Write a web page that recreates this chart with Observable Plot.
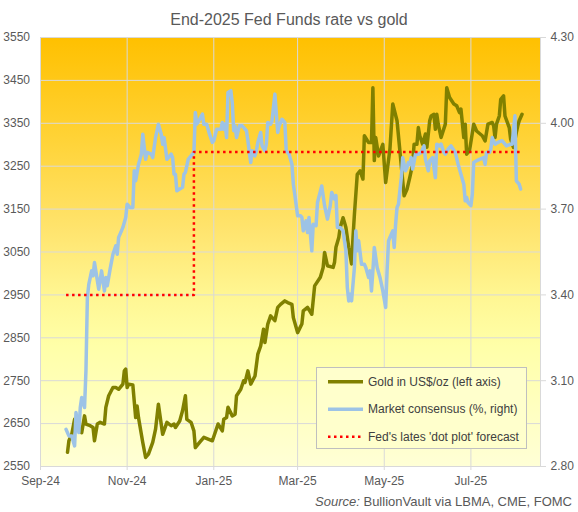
<!DOCTYPE html>
<html>
<head>
<meta charset="utf-8">
<script src="https://cdn.jsdelivr.net/npm/d3@7"></script>
<script src="https://cdn.jsdelivr.net/npm/@observablehq/plot@0.6"></script>
<style>
  body { margin: 0; background: #ffffff; font-family: "Liberation Sans", Arial, sans-serif; }
  #wrap { position: relative; width: 578px; height: 512px; overflow: hidden; background: #ffffff; }
  #bg { position: absolute; left: 40px; top: 37px; width: 500px; height: 429px;
        background: linear-gradient(to bottom, #FFC000 0%, #FFD43A 25%, #FFE46E 45%, #FFF692 60%, #FFFFA8 72%, #FFFFD6 100%); }
  #chart { position: absolute; left: 0; top: 0; }
  #title { position: absolute; left: 0; top: 10px; width: 578px; text-align: center;
           font-size: 16px; line-height: 20px; color: #595959; }
  #source { position: absolute; right: 6px; top: 494px; font-size: 13px; line-height: 16px; color: #595959; white-space: nowrap; }
  #legend { position: absolute; left: 0; top: 0; pointer-events: none; }
</style>
</head>
<body>
<div id="wrap">
  <div id="bg"></div>
  <div id="chart"></div>
  <div id="title">End-2025 Fed Funds rate vs gold</div>
  <div id="source"><i>Source:</i> BullionVault via LBMA, CME, FOMC</div>
</div>
<script>
// ---- data ----
const goldDates = [
"2024-09-20","2024-09-21","2024-09-23","2024-09-25","2024-09-26","2024-09-28","2024-09-30",
"2024-10-02","2024-10-03","2024-10-06","2024-10-08","2024-10-09","2024-10-11","2024-10-13","2024-10-16","2024-10-17","2024-10-19","2024-10-22","2024-10-24","2024-10-26","2024-10-29","2024-10-30","2024-10-31",
"2024-11-01","2024-11-02","2024-11-05","2024-11-07","2024-11-08","2024-11-09","2024-11-12","2024-11-14","2024-11-16","2024-11-19","2024-11-21","2024-11-23","2024-11-26","2024-11-29",
"2024-12-02","2024-12-04","2024-12-05","2024-12-08","2024-12-10","2024-12-12","2024-12-13","2024-12-16","2024-12-18","2024-12-19","2024-12-22","2024-12-25","2024-12-28","2024-12-31",
"2025-01-04","2025-01-07","2025-01-08","2025-01-10","2025-01-11","2025-01-14","2025-01-16","2025-01-17","2025-01-20","2025-01-22","2025-01-23","2025-01-25","2025-01-27","2025-01-30",
"2025-02-01","2025-02-03","2025-02-05","2025-02-06","2025-02-08","2025-02-10","2025-02-13","2025-02-15","2025-02-17","2025-02-20","2025-02-22","2025-02-25","2025-02-26","2025-02-28",
"2025-03-01","2025-03-04","2025-03-05","2025-03-08","2025-03-11","2025-03-13","2025-03-17","2025-03-19","2025-03-20","2025-03-22","2025-03-26","2025-03-27","2025-03-28","2025-03-30","2025-03-31",
"2025-04-02","2025-04-03","2025-04-04","2025-04-06","2025-04-08","2025-04-09","2025-04-10","2025-04-12","2025-04-14","2025-04-16","2025-04-17","2025-04-20","2025-04-22","2025-04-23","2025-04-24","2025-04-25","2025-04-27","2025-04-30",
"2025-05-02","2025-05-05","2025-05-07","2025-05-10","2025-05-12","2025-05-15","2025-05-17","2025-05-19","2025-05-21","2025-05-22","2025-05-24","2025-05-25","2025-05-26","2025-05-28","2025-05-30","2025-05-31",
"2025-06-02","2025-06-03","2025-06-05","2025-06-06","2025-06-07","2025-06-08","2025-06-10","2025-06-13","2025-06-14","2025-06-16","2025-06-19","2025-06-21","2025-06-23","2025-06-24","2025-06-26","2025-06-27","2025-06-28","2025-06-30",
"2025-07-03","2025-07-05","2025-07-09","2025-07-11","2025-07-13","2025-07-16","2025-07-17","2025-07-18","2025-07-19","2025-07-21","2025-07-22","2025-07-24","2025-07-25","2025-07-28","2025-07-29","2025-07-31",
"2025-08-02","2025-08-03","2025-08-04","2025-08-06"
];
const goldPrices = [
2583,2610,2625,2660,2634,2641,2629,
2668,2649,2645,2641,2610,2649,2653,2649,2688,2715,2734,2734,2730,2742,2773,2777,
2734,2742,2740,2664,2691,2664,2606,2571,2579,2606,2637,2695,2625,2653,
2645,2649,2641,2656,2680,2715,2660,2653,2633,2594,2606,2618,2614,2610,
2649,2633,2660,2664,2688,2668,2672,2715,2730,2750,2746,2773,2742,2761,
2812,2831,2870,2839,2882,2901,2890,2921,2928,2936,2932,2928,2897,2874,
2862,2882,2913,2921,2905,2971,2991,3014,3049,3018,3014,3026,3061,3084,3107,
3130,3119,3107,3061,3022,3084,3138,3231,3239,3220,3321,3305,3305,3433,3263,3317,3274,3301,
3212,3290,3395,3356,3286,3181,3196,3224,3255,3301,3301,3340,3321,3301,3325,3294,
3356,3367,3371,3336,3371,3348,3317,3348,3433,3410,3395,3391,3375,3383,3317,3348,3278,3286,
3348,3332,3321,3309,3348,3352,3344,3317,3348,3367,3406,3414,3367,3340,3313,3294,
3329,3344,3356,3371
];

const rateDates = [
"2024-09-19","2024-09-21","2024-09-23","2024-09-25","2024-09-26","2024-09-28","2024-09-29","2024-09-30",
"2024-10-02","2024-10-03","2024-10-04","2024-10-05","2024-10-07","2024-10-08","2024-10-09","2024-10-12","2024-10-14","2024-10-16","2024-10-17","2024-10-18","2024-10-20","2024-10-22","2024-10-24","2024-10-25","2024-10-26","2024-10-28","2024-10-29","2024-10-31",
"2024-11-01","2024-11-03","2024-11-05","2024-11-06","2024-11-07","2024-11-09","2024-11-11","2024-11-12","2024-11-14","2024-11-15","2024-11-18","2024-11-19","2024-11-21","2024-11-23","2024-11-25","2024-11-26","2024-11-27","2024-11-29",
"2024-12-02","2024-12-03","2024-12-04","2024-12-05","2024-12-06","2024-12-08","2024-12-10","2024-12-11","2024-12-12","2024-12-14","2024-12-16","2024-12-18","2024-12-19","2024-12-20","2024-12-22","2024-12-24","2024-12-25","2024-12-27","2024-12-29","2024-12-31",
"2025-01-01","2025-01-03","2025-01-06","2025-01-07","2025-01-08","2025-01-09","2025-01-10","2025-01-11","2025-01-13","2025-01-14","2025-01-15","2025-01-16","2025-01-17","2025-01-19","2025-01-21","2025-01-24","2025-01-25","2025-01-27","2025-01-28","2025-01-30","2025-01-31",
"2025-02-01","2025-02-02","2025-02-03","2025-02-04","2025-02-06","2025-02-07","2025-02-08","2025-02-10","2025-02-11","2025-02-13","2025-02-15","2025-02-16","2025-02-18","2025-02-20","2025-02-21","2025-02-23","2025-02-25","2025-02-26","2025-02-27",
"2025-03-01","2025-03-03","2025-03-04","2025-03-05","2025-03-07","2025-03-08","2025-03-09","2025-03-11","2025-03-12","2025-03-14","2025-03-15","2025-03-18","2025-03-20","2025-03-22","2025-03-24","2025-03-25","2025-03-27","2025-03-28","2025-03-29","2025-03-31",
"2025-04-02","2025-04-03","2025-04-04","2025-04-05","2025-04-06","2025-04-07","2025-04-08","2025-04-10","2025-04-11","2025-04-12","2025-04-13","2025-04-15","2025-04-17","2025-04-18","2025-04-20","2025-04-21","2025-04-22","2025-04-23","2025-04-24","2025-04-26","2025-04-28","2025-04-30",
"2025-05-02","2025-05-03","2025-05-04","2025-05-05","2025-05-07","2025-05-08","2025-05-09","2025-05-10","2025-05-11","2025-05-12","2025-05-13","2025-05-14","2025-05-16","2025-05-17","2025-05-18","2025-05-19","2025-05-20","2025-05-21","2025-05-23","2025-05-25","2025-05-27","2025-05-29","2025-05-30",
"2025-06-01","2025-06-02","2025-06-04","2025-06-05","2025-06-06","2025-06-07","2025-06-09","2025-06-10","2025-06-12","2025-06-13","2025-06-15","2025-06-17","2025-06-20","2025-06-22","2025-06-24","2025-06-26","2025-06-27","2025-06-28","2025-06-29",
"2025-07-01","2025-07-02","2025-07-03","2025-07-05","2025-07-07","2025-07-10","2025-07-11","2025-07-12","2025-07-14","2025-07-15","2025-07-16","2025-07-18","2025-07-20","2025-07-23","2025-07-26","2025-07-29","2025-07-30",
"2025-08-01","2025-08-02","2025-08-04","2025-08-05"
];
const rateValues = [
2.93,2.907,2.907,2.872,2.989,2.919,3.006,3.041,
3.006,3.135,3.391,3.437,3.484,3.467,3.513,3.42,3.484,3.414,3.461,3.432,3.49,3.542,3.572,3.542,3.601,3.624,3.636,3.671,
3.717,3.706,3.706,3.834,3.799,3.857,3.892,3.962,3.874,3.898,3.892,3.88,3.95,3.997,3.962,3.927,3.95,3.874,
3.892,3.88,3.822,3.822,3.764,3.77,3.776,3.822,3.828,3.874,3.886,3.898,4.038,3.997,4.014,4.032,3.997,3.997,3.962,3.933,
3.939,3.979,3.979,4.003,3.979,3.997,3.95,4.108,4.114,4.073,3.974,3.991,3.95,3.991,3.991,3.974,3.939,3.863,3.904,3.886,3.904,
3.933,3.95,3.968,3.921,3.904,3.927,4.003,3.997,4.009,4.102,3.968,3.991,4.014,4.003,3.904,3.892,3.857,3.787,3.752,
3.677,3.677,3.671,3.624,3.659,3.618,3.671,3.554,3.647,3.642,3.723,3.781,3.712,3.665,3.712,3.758,3.735,3.747,3.636,3.636,
3.624,3.589,3.554,3.426,3.379,3.402,3.379,3.496,3.624,3.554,3.589,3.507,3.507,3.496,3.461,3.484,3.414,3.484,3.566,3.496,3.461,3.414,
3.356,3.484,3.589,3.601,3.624,3.566,3.647,3.706,3.717,3.764,3.81,3.88,3.834,3.845,3.863,3.857,3.88,3.84,3.892,3.892,3.898,3.921,3.874,
3.834,3.869,3.88,3.845,3.81,3.927,3.921,3.927,3.898,3.892,3.91,3.921,3.898,3.857,3.822,3.787,3.729,3.741,3.723,
3.712,3.752,3.863,3.869,3.874,3.88,3.857,3.898,3.898,3.91,3.95,3.927,3.933,3.939,3.921,3.927,3.927,
4.026,3.799,3.787,3.77
];

// Fed 'dot plot' median for end-2025 (step line)
const dotDates = ["2024-09-19", "2024-12-18", "2025-08-05"];
const dotValues = [3.40, 3.90, 3.90];

// axes
const xDomain = ["2024-09-01", "2025-08-19"];
const xTickDates = ["2024-09-01", "2024-11-01", "2025-01-01", "2025-03-01", "2025-05-01", "2025-07-01"];
const goldTicks = [2550, 2650, 2750, 2850, 2950, 3050, 3150, 3250, 3350, 3450, 3550];
const rateTicks = [2.80, 3.10, 3.40, 3.70, 4.00, 4.30];

const seriesNames = ["Gold in US$/oz (left axis)", "Market consensus (%, right)", "Fed's lates 'dot plot' forecast"];
const seriesColors = ["#808000", "#9DC3E6", "#FF0000"];

// ---- build ----
const parse = d3.utcParse("%Y-%m-%d");
const rateToGold = d3.scaleLinear().domain([2.80, 4.30]).range([2550, 3550]);

const gold = goldDates.map((d, i) => ({date: parse(d), value: goldPrices[i]}));
const rate = rateDates.map((d, i) => ({date: parse(d), value: rateToGold(rateValues[i])}));
const dots = dotDates.map((d, i) => ({date: parse(d), value: rateToGold(dotValues[i])}));
const xTicks = xTickDates.map(parse);

const gridColor = "#D9D9D9";
const textColor = "#595959";

const chart = Plot.plot({
  width: 578,
  height: 512,
  marginTop: 37,
  marginBottom: 46,
  marginLeft: 40,
  marginRight: 38,
  style: {background: "transparent", fontFamily: "'Liberation Sans', Arial, sans-serif", fontSize: "12px", color: textColor, overflow: "visible"},
  x: {type: "utc", domain: xDomain.map(parse)},
  y: {domain: [2550, 3550]},
  marks: [
    Plot.gridX(xTicks, {stroke: gridColor, strokeOpacity: 1, strokeWidth: 1}),
    Plot.gridY(goldTicks, {stroke: gridColor, strokeOpacity: 1, strokeWidth: 1}),
    Plot.frame({stroke: gridColor, strokeWidth: 1}),
    Plot.axisX(xTicks, {tickFormat: d3.utcFormat("%b-%y"), tickSize: 4, tickPadding: 5.5, stroke: gridColor, fill: textColor, label: null, fontSize: 12}),
    Plot.axisY(goldTicks, {anchor: "left", tickSize: 0, tickPadding: 10.5, tickFormat: d => String(d), fill: textColor, label: null, fontSize: 12}),
    Plot.axisY(rateTicks.map(rateToGold), {anchor: "right", tickSize: 5, tickPadding: 5, stroke: gridColor, fill: textColor,
      tickFormat: g => rateToGold.invert(g).toFixed(2), label: null, fontSize: 12}),
    Plot.line(gold, {x: "date", y: "value", stroke: seriesColors[0], strokeWidth: 3.5, strokeLinejoin: "round", strokeLinecap: "round"}),
    Plot.line(rate, {x: "date", y: "value", stroke: seriesColors[1], strokeWidth: 3.5, strokeLinejoin: "round", strokeLinecap: "round"}),
    Plot.line(dots, {x: "date", y: "value", curve: "step-after", stroke: seriesColors[2], strokeWidth: 2.5, strokeDasharray: "2.5 3.5", strokeLinecap: "butt"})
  ]
});
document.getElementById("chart").appendChild(chart);

// ---- legend ----
const ns = "http://www.w3.org/2000/svg";
const leg = d3.select("#wrap").append("svg")
  .attr("id", "legend").attr("width", 578).attr("height", 512)
  .attr("xmlns", ns);
leg.append("rect").attr("x", 316.5).attr("y", 367.5).attr("width", 210).attr("height", 81)
  .attr("fill", "#FFFFCC").attr("stroke", "#BFBFBF").attr("stroke-width", 1);
const rowY = [381.7, 409.2, 436.7];
seriesNames.forEach((name, i) => {
  const ln = leg.append("line").attr("x1", 328).attr("x2", 363).attr("y1", rowY[i]).attr("y2", rowY[i])
    .attr("stroke", seriesColors[i]);
  if (i < 2) ln.attr("stroke-width", 3.5);
  else ln.attr("stroke-width", 2.5).attr("stroke-dasharray", "2.5 3.5");
  leg.append("text").attr("x", 368).attr("y", rowY[i] + 4)
    .attr("font-family", "'Liberation Sans', Arial, sans-serif").attr("font-size", 12)
    .attr("fill", "#404040").text(name);
});
</script>
</body>
</html>
